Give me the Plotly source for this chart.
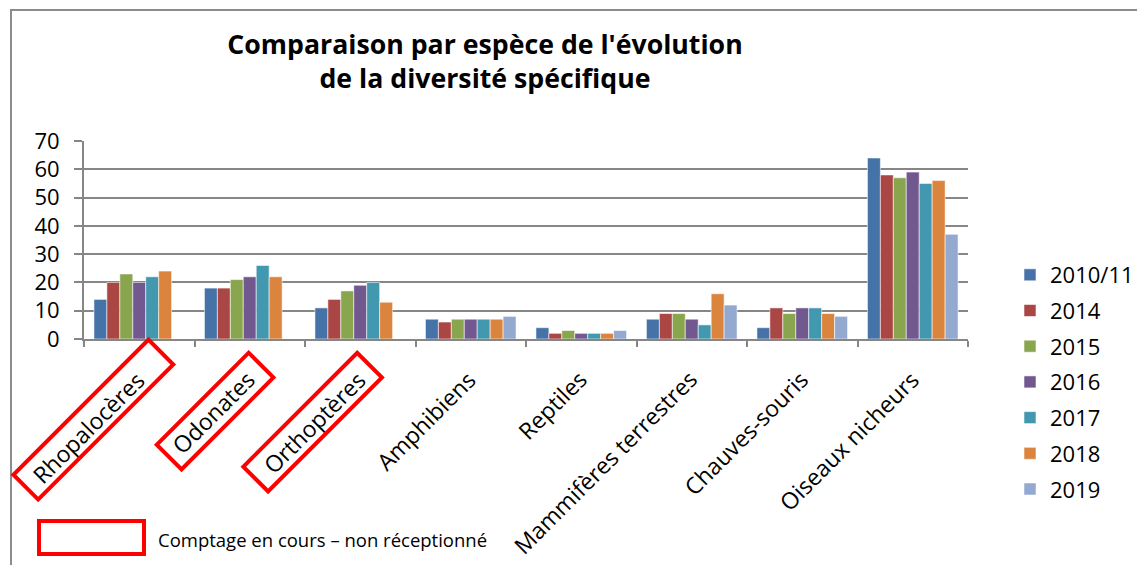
import plotly.graph_objects as go

categories = ["Rhopalocères", "Odonates", "Orthoptères", "Amphibiens", "Reptiles",
              "Mammifères terrestres", "Chauves-souris", "Oiseaux nicheurs"]
pending = ["Rhopalocères", "Odonates", "Orthoptères"]

years = ["2010/11", "2014", "2015", "2016", "2017", "2018", "2019"]
v_2010_11 = [14, 18, 11, 7, 4, 7, 4, 64]
v_2014 = [20, 18, 14, 6, 2, 9, 11, 58]
v_2015 = [23, 21, 17, 7, 3, 9, 9, 57]
v_2016 = [20, 22, 19, 7, 2, 7, 11, 59]
v_2017 = [22, 26, 20, 7, 2, 5, 11, 55]
v_2018 = [24, 22, 13, 7, 2, 16, 9, 56]
v_2019 = [None, None, None, 8, 3, 12, 8, 37]
series = [v_2010_11, v_2014, v_2015, v_2016, v_2017, v_2018, v_2019]
colors = ["#4572A7", "#AA4643", "#89A54E", "#71588F", "#4198AF", "#DB843D", "#93A9CF"]

# page body has an 8px margin: figure is placed at (8, 8) in the window
OFF = 8
W, H = 1145 - OFF, 565 - OFF
# plot area in window pixels
SL, SR, ST, SB = 84, 968, 141, 339
L, R, T, B = SL - OFF, SR - OFF, ST - OFF, SB - OFF


def px(xs):
    return (xs - OFF - L) / (R - L)


def py(ys):
    return (B - (ys - OFF)) / (B - T)


FONT = "Open Sans"
LBL = 23
fig = go.Figure()
for name, vals, col in zip(years, series, colors):
    fig.add_trace(go.Bar(x=categories, y=vals, name=name, marker_color=col,
                         marker_line=dict(color="rgba(255,255,255,0.55)", width=1),
                         legendgroup=name))

# red "pending" boxes: (nbsp padding, xshift, yshift) of rotated box outer corner
box_style = {
    "Rhopalocères": (7, 37, 2),
    "Odonates": (4, 26, -11),
    "Orthoptères": (5, 24, -11),
}

annotations = []
for c in categories:
    annotations.append(dict(
        x=c, xref="x", y=0, yref="y", text=c,
        showarrow=False, textangle=-45, xanchor="right", yanchor="top",
        font=dict(family=FONT, size=LBL, color="black"),
        xshift=15, yshift=-22))
for c in pending:
    k, xs, ys = box_style[c]
    annotations.append(dict(
        x=c, xref="x", y=0, yref="y",
        text="\u00a0" * k + c + "\u00a0" * k,
        showarrow=False, textangle=-45, xanchor="right", yanchor="top",
        font=dict(family=FONT, size=18, color="rgba(0,0,0,0)"),
        bordercolor="#FF0000", borderwidth=4, borderpad=3.5,
        xshift=xs, yshift=ys))
annotations.append(dict(x=px(156), xref="paper", y=py(539), yref="paper",
                        text="Comptage en cours – non réceptionné", showarrow=False,
                        xanchor="left", yanchor="middle",
                        font=dict(family=FONT, size=18.5, color="black")))

shapes = [
    dict(type="rect", xref="paper", yref="paper", x0=px(11), x1=px(1170), y0=py(10), y1=py(590),
         line=dict(color="#8C8C8C", width=2), layer="below"),
    dict(type="rect", xref="paper", yref="paper", x0=px(39), x1=px(144), y0=py(521), y1=py(554),
         line=dict(color="#FF0000", width=4)),
]

fig.update_layout(
    width=W, height=H,
    margin=dict(l=L, r=W - R, t=T, b=H - B, autoexpand=False),
    paper_bgcolor="white", plot_bgcolor="white",
    barmode="group", bargap=0.18, bargroupgap=0,
    title=dict(text="Comparaison par espèce de l'évolution<br>de la diversité spécifique",
               xref="paper", x=px(485), xanchor="center",
               yref="container", y=1 - (53.5 - OFF) / H, yanchor="middle",
               font=dict(family=FONT, size=26.7, color="black", weight="bold")),
    font=dict(family=FONT, size=22, color="black"),
    legend=dict(x=px(1010), xanchor="left", y=py(254), yanchor="top",
                font=dict(family=FONT, size=22, color="black"),
                tracegroupgap=4.1, bgcolor="rgba(0,0,0,0)", maxheight=420),
    annotations=annotations, shapes=shapes,
)
fig.update_xaxes(range=[-0.5, len(categories) - 0.5], autorange=False,
                 showticklabels=False, showline=True, linecolor="#868686", linewidth=2,
                 ticks="outside", tickson="boundaries", ticklen=6, tickcolor="#868686",
                 tickwidth=2, showgrid=False)
fig.update_yaxes(range=[0, 70], dtick=10, showgrid=True, gridcolor="#868686", gridwidth=2,
                 showline=True, linecolor="#868686", linewidth=2, ticks="outside",
                 ticklen=8, tickcolor="#868686", tickwidth=2, ticklabelstandoff=10,
                 tickfont=dict(family=FONT, size=22, color="black"), zeroline=False)

fig.write_html("out.html")
